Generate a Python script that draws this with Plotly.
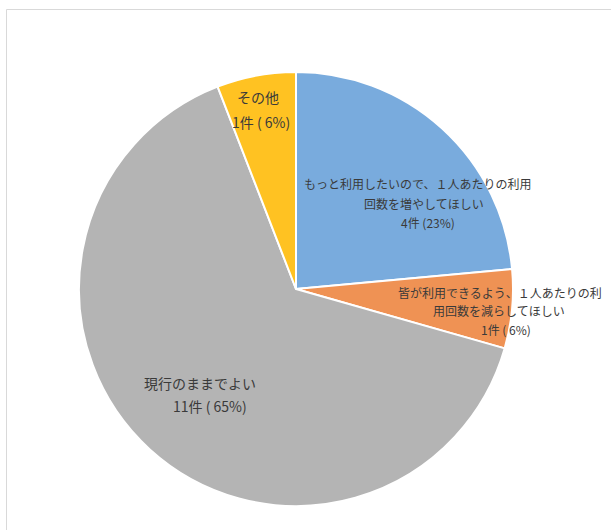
import plotly.graph_objects as go

# Data
categories = [
    "もっと利用したいので、１人あたりの利用回数を増やしてほしい",
    "皆が利用できるよう、１人あたりの利用回数を減らしてほしい",
    "現行のままでよい",
    "その他",
]
counts = [4, 1, 11, 1]
label_lines = [
    ["もっと利用したいので、１人あたりの利用", "回数を増やしてほしい", "4件 (23%)"],
    ["皆が利用できるよう、１人あたりの利", "用回数を減らしてほしい", "1件 ( 6%)"],
    ["現行のままでよい", "11件 ( 65%)"],
    ["その他", "1件 ( 6%)"],
]
colors = ["#79ABDD", "#EF9254", "#B4B4B4", "#FFC222"]

W, H = 611, 530
fig = go.Figure()
fig.add_trace(go.Pie(
    labels=categories,
    values=counts,
    sort=False,
    direction="clockwise",
    rotation=0,
    textinfo="none",
    hoverinfo="label+value+percent",
    marker=dict(colors=colors, line=dict(color="white", width=2)),
    domain=dict(x=[79 / W, 513 / W], y=[24 / H, 458 / H]),
    showlegend=False,
))

# label placement (pixel positions of line centres)
label_pos = [
    [(418, 183, 12), (424, 203, 12), (428, 222, 12)],
    [(500, 292, 12), (499, 310, 12), (506, 329, 12)],
    [(200, 383, 14), (210, 406, 14)],
    [(258, 97, 14), (261, 122, 14)],
]
for lines, poss in zip(label_lines, label_pos):
    for txt, (px, py, fs) in zip(lines, poss):
        fig.add_annotation(
            x=px / W, y=1 - py / H, xref="paper", yref="paper",
            text=txt, showarrow=False, xanchor="center", yanchor="middle",
            font=dict(family="Noto Sans CJK JP", size=fs, color="#3A3A3A"),
        )

fig.add_shape(type="rect", xref="paper", yref="paper",
              x0=6.5 / W, x1=1.02, y0=-0.02, y1=1 - 9.5 / H,
              line=dict(color="#D9D9D9", width=1), fillcolor="rgba(0,0,0,0)")

fig.update_layout(
    width=W, height=H,
    margin=dict(l=0, r=0, t=0, b=0),
    paper_bgcolor="white", plot_bgcolor="white",
)
fig.write_html("out.html", config={"displayModeBar": False},
               post_script="document.body.style.margin='0';document.body.style.overflow='hidden';")
